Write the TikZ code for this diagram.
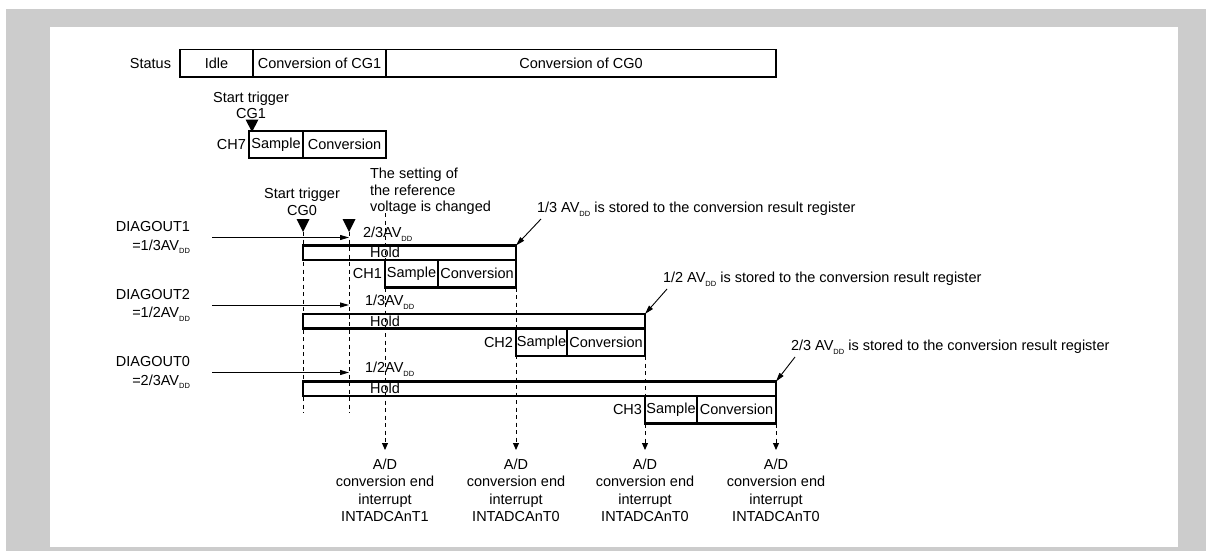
\documentclass[tikz,border=0pt]{standalone}
\usepackage{fontspec}
\setmainfont{Liberation Sans}
\usetikzlibrary{positioning,arrows.meta,calc}
\definecolor{framegray}{HTML}{CCCCCC}
\newcommand{\avdd}{AV\raisebox{-3.5pt}{\fontsize{7.5}{8}\selectfont DD}}
\tikzset{
  txt/.style={inner sep=0pt,outer sep=0pt,font=\fontsize{14.5}{16.5}\selectfont},
  seg/.style={draw=black,line width=2.2pt,inner sep=0pt,outer sep=0pt,anchor=west,
              font=\fontsize{14.5}{16.5}\selectfont},
  stbox/.style={seg,line width=1.8pt,minimum height=27.5},
  holdbox/.style={seg,minimum height=14.5},
  smpbox/.style={seg,minimum height=27.5},
  sig/.style={-{Triangle[length=9pt,width=5pt]},line width=0.9pt},
  guide/.style={line width=1pt,dash pattern=on 4pt off 3.5pt},
  endarr/.style={guide,-{Triangle[length=7pt,width=6pt]}},
  trig/.style={fill=black},
  intlbl/.style={txt,align=center,font=\fontsize{14.5}{17.3}\selectfont},
}

\begin{document}
\begin{tikzpicture}[x=1pt,y=-1pt]
  % ===== frame =====
  \useasboundingbox (0,0) rectangle (1206,551);
  \fill[framegray] (6,9) rectangle (1206,551);
  \fill[white] (50,27) rectangle (1178,547);

  % ===== status bar =====
  \node[txt,anchor=east]                 (stLbl) at (171,63.3) {Status};
  \node[stbox,minimum width=73]          (stIdle) at (180,63.3) {Idle};
  \node[stbox,minimum width=133]         (stCG1) at (stIdle.east) {Conversion of CG1};
  \node[stbox,minimum width=390]         (stCG0) at (stCG1.east) {Conversion of CG0};

  % ===== CG1 trigger, CH7 =====
  \node[txt,align=center]                (trg1) at (251,105.5) {Start trigger\\CG1};
  \coordinate (tip1) at (252,132);
  \fill[trig] (tip1) -- ++(-6.5,-12.5) -- ++(13,0) -- cycle;
  \node[smpbox,minimum width=54]         (ch7S) at (249,144.5) {Sample};
  \node[smpbox,minimum width=83]         (ch7C) at (ch7S.east) {Conversion};
  \node[txt,left=3pt of ch7S]            (ch7)  {CH7};

  % ===== CG0 trigger, reference change =====
  \node[txt,align=center]                (trg0) at (302,202) {Start trigger\\CG0};
  \coordinate (tip0) at (303,232);
  \coordinate (tipR) at (349,232);
  \fill[trig] (tip0) -- ++(-6.5,-13) -- ++(13,0) -- cycle;
  \fill[trig] (tipR) -- ++(-6.5,-13) -- ++(13,0) -- cycle;
  \node[txt,align=left,anchor=west]      (refNote) at (370,191.5)
       {The setting of\\the reference\\voltage is changed};
  \coordinate (refTop) at (385,213);
  \coordinate (guideEnd) at (0,413);
  \coordinate (arrEnd) at (0,450);

  % ===== DIAGOUT1 / CH1 =====
  \node[txt,align=right,anchor=east]     (dg1) at (190,237.5) {DIAGOUT1\\[2pt]=1/3\avdd};
  \draw[sig] ([xshift=22pt]dg1.east) -- (tipR |- dg1.east);
  \node[txt,anchor=west]                 (v1)  at (363,234) {2/3\avdd};
  \node[holdbox,minimum width=213]       (hd1) at (303,252.75) {};
  \node[txt]                             (hd1t) at (385,252.75) {Hold};
  \node[smpbox,minimum width=53]         (ch1S) at (385,273.75) {Sample};
  \node[smpbox,minimum width=78]         (ch1C) at (ch1S.east) {Conversion};
  \node[txt,left=3pt of ch1S]            (ch1)  {CH1};
  \node[txt,anchor=west]                 (st1)  at (537,209)
       {1/3 \avdd{} is stored to the conversion result register};
  \draw[sig] ([xshift=4pt,yshift=-3pt]st1.south west) -- (hd1.north east);

  % ===== DIAGOUT2 / CH2 =====
  \node[txt,align=right,anchor=east]     (dg2) at (190,305) {DIAGOUT2\\[2pt]=1/2\avdd};
  \draw[sig] ([xshift=22pt]dg2.east) -- (tipR |- dg2.east);
  \node[txt,anchor=west]                 (v2)  at (365,302) {1/3\avdd};
  \node[holdbox,minimum width=342]       (hd2) at (303,321.25) {};
  \node[txt]                             (hd2t) at (385,321.25) {Hold};
  \node[smpbox,minimum width=51]         (ch2S) at (516,342.25) {Sample};
  \node[smpbox,minimum width=78]         (ch2C) at (ch2S.east) {Conversion};
  \node[txt,left=3pt of ch2S]            (ch2)  {CH2};
  \node[txt,anchor=west]                 (st2)  at (663,279)
       {1/2 \avdd{} is stored to the conversion result register};
  \draw[sig] ([xshift=4pt,yshift=-3pt]st2.south west) -- (hd2.north east);

  % ===== DIAGOUT0 / CH3 =====
  \node[txt,align=right,anchor=east]     (dg0) at (190,372.5) {DIAGOUT0\\[2pt]=2/3\avdd};
  \draw[sig] ([xshift=22pt]dg0.east) -- (tipR |- dg0.east);
  \node[txt,anchor=west]                 (v3)  at (365,369) {1/2\avdd};
  \node[holdbox,minimum width=473]       (hd3) at (303,388.75) {};
  \node[txt]                             (hd3t) at (385,388.75) {Hold};
  \node[smpbox,minimum width=52]         (ch3S) at (645,409.75) {Sample};
  \node[smpbox,minimum width=79]         (ch3C) at (ch3S.east) {Conversion};
  \node[txt,left=3pt of ch3S]            (ch3)  {CH3};
  \node[txt,anchor=west]                 (st3)  at (791,347)
       {2/3 \avdd{} is stored to the conversion result register};
  \draw[sig] ([xshift=4pt,yshift=-3pt]st3.south west) -- (hd3.north east);

  % ===== guides =====
  \draw[guide] (tip0) -- (tip0 |- guideEnd);
  \draw[guide] (tipR) -- (tipR |- guideEnd);
  \coordinate (e1) at (refTop |- arrEnd);
  \coordinate (e2) at (ch1C.south east |- arrEnd);
  \coordinate (e3) at (ch2C.south east |- arrEnd);
  \coordinate (e4) at (ch3C.south east |- arrEnd);
  \draw[endarr] (refTop) -- (e1);
  \draw[endarr] (ch1C.south east) -- (e2);
  \draw[endarr] (ch2C.south east) -- (e3);
  \draw[endarr] (ch3C.south east) -- (e4);

  % ===== interrupts =====
  \node[intlbl,below=9pt of e1] (int1) {A/D\\conversion end\\interrupt\\INTADCAnT1};
  \node[intlbl,below=9pt of e2] (int2) {A/D\\conversion end\\interrupt\\INTADCAnT0};
  \node[intlbl,below=9pt of e3] (int3) {A/D\\conversion end\\interrupt\\INTADCAnT0};
  \node[intlbl,below=9pt of e4] (int4) {A/D\\conversion end\\interrupt\\INTADCAnT0};
\end{tikzpicture}
\end{document}
